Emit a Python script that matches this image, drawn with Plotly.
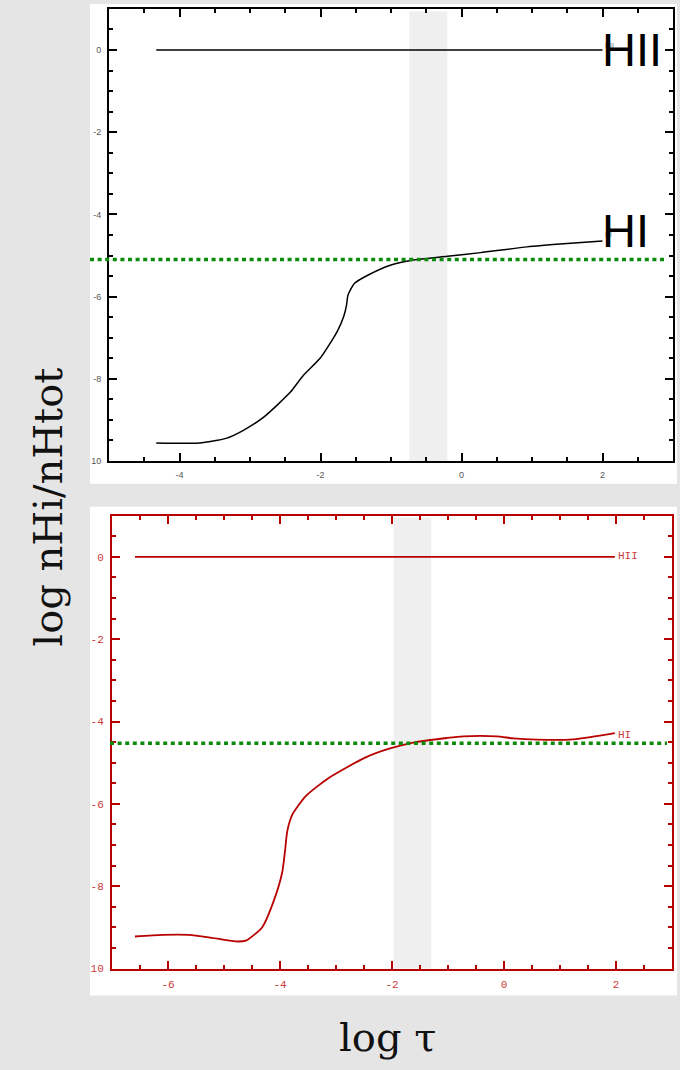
import plotly.graph_objects as go

W, H = 680, 1070

# ---------------- data ----------------
top_hii_x = [-4.33, 2.0]
top_hii_y = [0.0, 0.0]
top_hi_x = [-4.33, -3.72, -3.34, -3.10, -2.81, -2.43, -2.25, -2.0, -1.76, -1.67, -1.63,
            -1.61, -1.52, -1.33, -1.0, -0.68, -0.20, 0.27, 0.93, 1.50, 2.0]
top_hi_y = [-9.56, -9.56, -9.45, -9.26, -8.94, -8.33, -7.93, -7.49, -6.84, -6.48, -6.2,
            -5.96, -5.68, -5.48, -5.23, -5.11, -5.02, -4.93, -4.79, -4.71, -4.65]
top_band = [-0.74, -0.20]
top_green_level = -5.10

bot_hii_x = [-6.59, 1.98]
bot_hii_y = [0.0, 0.0]
bot_hi_x = [-6.59, -6.10, -5.63, -5.27, -4.79, -4.61, -4.32, -4.11, -3.96, -3.91, -3.87,
            -3.78, -3.54, -3.13, -2.47, -2.05, -1.62, -1.02, -0.73, -0.13, 0.17, 0.59,
            1.18, 1.48, 1.98]
bot_hi_y = [-9.22, -9.18, -9.18, -9.24, -9.34, -9.32, -9.00, -8.35, -7.66, -7.14, -6.66,
            -6.26, -5.81, -5.37, -4.87, -4.66, -4.51, -4.40, -4.36, -4.36, -4.41, -4.44,
            -4.44, -4.39, -4.28]
bot_band = [-1.97, -1.30]
bot_green_level = -4.53

y_tickvals = [-10, -8, -6, -4, -2, 0]
y_ticktext = ["10", "-8", "-6", "-4", "-2", "0"]
top_x_tickvals = [-4, -2, 0, 2]
top_x_ticktext = ["-4", "-2", "0", "2"]
bot_x_tickvals = [-6, -4, -2, 0, 2]
bot_x_ticktext = ["-6", "-4", "-2", "0", "2"]

# ---------------- helpers ----------------
def px(x):
    return x / W

def py(y):
    return 1 - y / H

BLACK = "#000000"
RED = "#b80000"
RED_TXT = "#cc3a3a"
GREEN = "#0b8a0b"

fig = go.Figure()

fig.add_trace(go.Scatter(x=top_hii_x, y=top_hii_y, mode="lines",
                         line=dict(color=BLACK, width=1.5), xaxis="x", yaxis="y",
                         showlegend=False, hoverinfo="skip"))
fig.add_trace(go.Scatter(x=top_hi_x, y=top_hi_y, mode="lines",
                         line=dict(color=BLACK, width=1.5, shape="spline", smoothing=0.6),
                         xaxis="x", yaxis="y", showlegend=False, hoverinfo="skip"))
fig.add_trace(go.Scatter(x=bot_hii_x, y=bot_hii_y, mode="lines",
                         line=dict(color=RED, width=1.8), xaxis="x2", yaxis="y2",
                         showlegend=False, hoverinfo="skip"))
fig.add_trace(go.Scatter(x=bot_hi_x, y=bot_hi_y, mode="lines",
                         line=dict(color=RED, width=1.8, shape="spline", smoothing=0.6),
                         xaxis="x2", yaxis="y2", showlegend=False, hoverinfo="skip"))

def axis(dom, rng, color, tickvals, ticktext, font, anchor):
    return dict(
        domain=dom, range=rng, anchor=anchor,
        showline=True, linecolor=color, linewidth=2, mirror="allticks",
        ticks="inside", ticklen=8, tickwidth=1.5, tickcolor=color,
        tickmode="array", tickvals=tickvals, ticktext=ticktext,
        tickfont=font, showgrid=False, zeroline=False,
        minor=dict(dtick=0.5, tick0=0, ticks="inside", ticklen=4, tickwidth=1.5,
                   tickcolor=color, showgrid=False),
        ticklabelstandoff=4,
    )

top_font = dict(family="Liberation Sans, Arial", size=9, color="#555555")
bot_font = dict(family="Liberation Mono, DejaVu Sans Mono", size=11, color=RED_TXT)

fig.update_layout(
    width=W, height=H, margin=dict(l=0, r=0, t=0, b=0),
    paper_bgcolor="#e5e5e5", plot_bgcolor="white", showlegend=False,
    xaxis=axis([px(109), px(673)], [-5, 3], BLACK, top_x_tickvals, top_x_ticktext, top_font, "y"),
    yaxis=axis([py(464), py(9)], [-10, 1], BLACK, y_tickvals, y_ticktext, top_font, "x"),
    xaxis2=axis([px(112), px(672)], [-7, 3], RED, bot_x_tickvals, bot_x_ticktext, bot_font, "y2"),
    yaxis2=axis([py(975), py(519)], [-10, 1], RED, y_tickvals, y_ticktext, bot_font, "x2"),
)

shapes = [
    # white panels
    dict(type="rect", xref="paper", yref="paper", x0=px(90), x1=px(677), y0=py(487), y1=py(4),
         fillcolor="white", line=dict(width=0), layer="below"),
    dict(type="rect", xref="paper", yref="paper", x0=px(90), x1=px(677), y0=py(1002), y1=py(510),
         fillcolor="white", line=dict(width=0), layer="below"),
    # gray bands
    dict(type="rect", xref="x", yref="y domain", x0=top_band[0], x1=top_band[1], y0=0, y1=0.995,
         fillcolor="#efefef", line=dict(width=0), layer="below"),
    dict(type="rect", xref="x2", yref="y2 domain", x0=bot_band[0], x1=bot_band[1], y0=0, y1=0.995,
         fillcolor="#efefef", line=dict(width=0), layer="below"),
    # green dotted levels
    dict(type="line", xref="paper", yref="y", x0=px(90), x1=px(667), y0=top_green_level,
         y1=top_green_level, line=dict(color=GREEN, width=3.5, dash="4px,3.6px")),
    dict(type="line", xref="paper", yref="y2", x0=px(110), x1=px(667), y0=bot_green_level,
         y1=bot_green_level, line=dict(color=GREEN, width=3.5, dash="4px,3.6px")),
]
fig.update_layout(shapes=shapes)

annotations = [
    # small labels, top panel (partly hidden behind the big overlaid labels, as in the original)
    dict(x=2.0, y=0.12, xref="x", yref="y", text="HII", showarrow=False, xanchor="left",
         yanchor="middle", font=dict(family="Liberation Sans", size=7, color="#777777")),
    dict(x=2.0, y=-4.5, xref="x", yref="y", text="HI", showarrow=False, xanchor="left",
         yanchor="middle", font=dict(family="Liberation Sans", size=7, color="#777777")),
    # big overlaid labels
    dict(x=px(600), y=py(50), xref="paper", yref="paper", text="HII", showarrow=False,
         xanchor="left", yanchor="middle",
         font=dict(family="Liberation Sans, Arial", size=47, color="black")),
    dict(x=px(600), y=py(232), xref="paper", yref="paper", text="HI", showarrow=False,
         xanchor="left", yanchor="middle",
         font=dict(family="Liberation Sans, Arial", size=47, color="black")),
    # small labels, bottom panel
    dict(x=2.0, y=0.03, xref="x2", yref="y2", text="HII", showarrow=False, xanchor="left",
         yanchor="middle", font=dict(family="Liberation Mono, DejaVu Sans Mono", size=11, color=RED_TXT)),
    dict(x=2.0, y=-4.32, xref="x2", yref="y2", text="HI", showarrow=False, xanchor="left",
         yanchor="middle", font=dict(family="Liberation Mono, DejaVu Sans Mono", size=11, color=RED_TXT)),
    # axis titles
    dict(x=px(48), y=py(511), xref="paper", yref="paper", text="log nHi/nHtot", showarrow=False,
         textangle=-90, xanchor="center", yanchor="middle",
         font=dict(family="DejaVu Serif", size=40, color="#111111")),
    dict(x=px(387), y=py(1044), xref="paper", yref="paper", text="log τ", showarrow=False,
         xanchor="center", yanchor="middle",
         font=dict(family="DejaVu Serif", size=40, color="#111111")),
]
fig.update_layout(annotations=annotations)

fig.write_html("out.html")
